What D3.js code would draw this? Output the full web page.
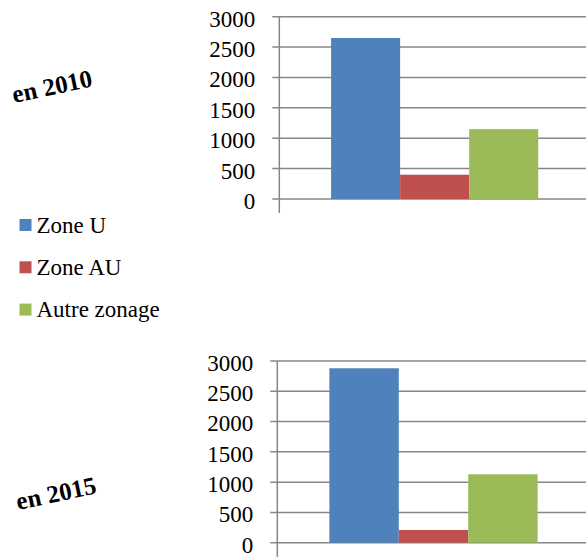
<!DOCTYPE html>
<html>
<head>
<meta charset="utf-8">
<script src="https://cdn.jsdelivr.net/npm/d3@7"></script>
<style>
  body { margin: 0; background: #fff; }
</style>
</head>
<body>
<div id="my_dataviz"></div>
<script>
const categories = ["Zone U", "Zone AU", "Autre zonage"]
const colors = ["#4F81BD", "#C0504D", "#9BBB59"]
const yearLabels = ["en 2010", "en 2015"]
const values2010 = [2650, 400, 1150]
const values2015 = [2880, 210, 1130]
const yTicks = [0, 500, 1000, 1500, 2000, 2500, 3000]

const width = 586, height = 557
const fontName = "Liberation Serif"

const svg = d3.select("#my_dataviz")
  .append("svg")
  .attr("width", width)
  .attr("height", height)

const drawChart = (values, title, box) => {
  let y = d3.scaleLinear().domain([0, 3000]).range([box.bottom, box.top])
  // one category, Excel style gap (150%) around the cluster
  let x0 = d3.scaleBand().domain(["all"]).range([box.left, box.right]).paddingInner(0).paddingOuter(0.25)
  let x1 = d3.scaleBand().domain(categories).range([0, x0.bandwidth()])

  // gridlines + left ticks
  svg.selectAll(null)
    .data(yTicks)
    .enter()
    .append("line")
    .attr("x1", box.left - 7)
    .attr("x2", width)
    .attr("y1", d => y(d))
    .attr("y2", d => y(d))
    .attr("stroke", "#878787")
    .attr("stroke-width", 1.5)

  svg.selectAll(null)
    .data(yTicks)
    .enter()
    .append("text")
    .attr("x", box.left - 24)
    .attr("y", d => y(d))
    .attr("dy", "0.43em")
    .attr("text-anchor", "end")
    .style("font-family", fontName)
    .style("font-size", "23px")
    .attr("fill", "#000")
    .text(d => d)

  svg.selectAll(null)
    .data(values)
    .enter()
    .append("rect")
    .attr("x", (d, i) => x0("all") + x1(categories[i]))
    .attr("width", x1.bandwidth())
    .attr("y", d => y(d))
    .attr("height", d => y(0) - y(d))
    .attr("fill", (d, i) => colors[i])

  // vertical axis line
  svg.append("line")
    .attr("x1", box.left)
    .attr("x2", box.left)
    .attr("y1", y(3000))
    .attr("y2", box.axisEnd)
    .attr("stroke", "#878787")
    .attr("stroke-width", 1.5)

  svg.append("text")
    .attr("transform", "translate(" + box.titleX + "," + box.titleY + ") rotate(-12)")
    .attr("text-anchor", "middle")
    .attr("dy", "0.35em")
    .style("font-family", fontName)
    .style("font-size", "25px")
    .style("font-weight", "bold")
    .text(title)
}

drawChart(values2010, yearLabels[0], { left: 279.3, right: 590, top: 16.7, bottom: 199, axisEnd: 213, titleX: 52, titleY: 86 })
drawChart(values2015, yearLabels[1], { left: 277.3, right: 589.7, top: 361, bottom: 542.7, axisEnd: 557, titleX: 56, titleY: 493 })

// legend
svg.selectAll(null)
  .data(categories)
  .enter()
  .append("rect")
  .attr("x", 19.5)
  .attr("y", (d, i) => 219 + i * 42.3)
  .attr("width", 12)
  .attr("height", 12)
  .attr("fill", (d, i) => colors[i])

svg.selectAll(null)
  .data(categories)
  .enter()
  .append("text")
  .attr("x", 36.5)
  .attr("y", (d, i) => 232.5 + i * 42.3)
  .style("font-family", fontName)
  .style("font-size", "23px")
  .attr("fill", "#000")
  .text(d => d)
</script>
</body>
</html>
